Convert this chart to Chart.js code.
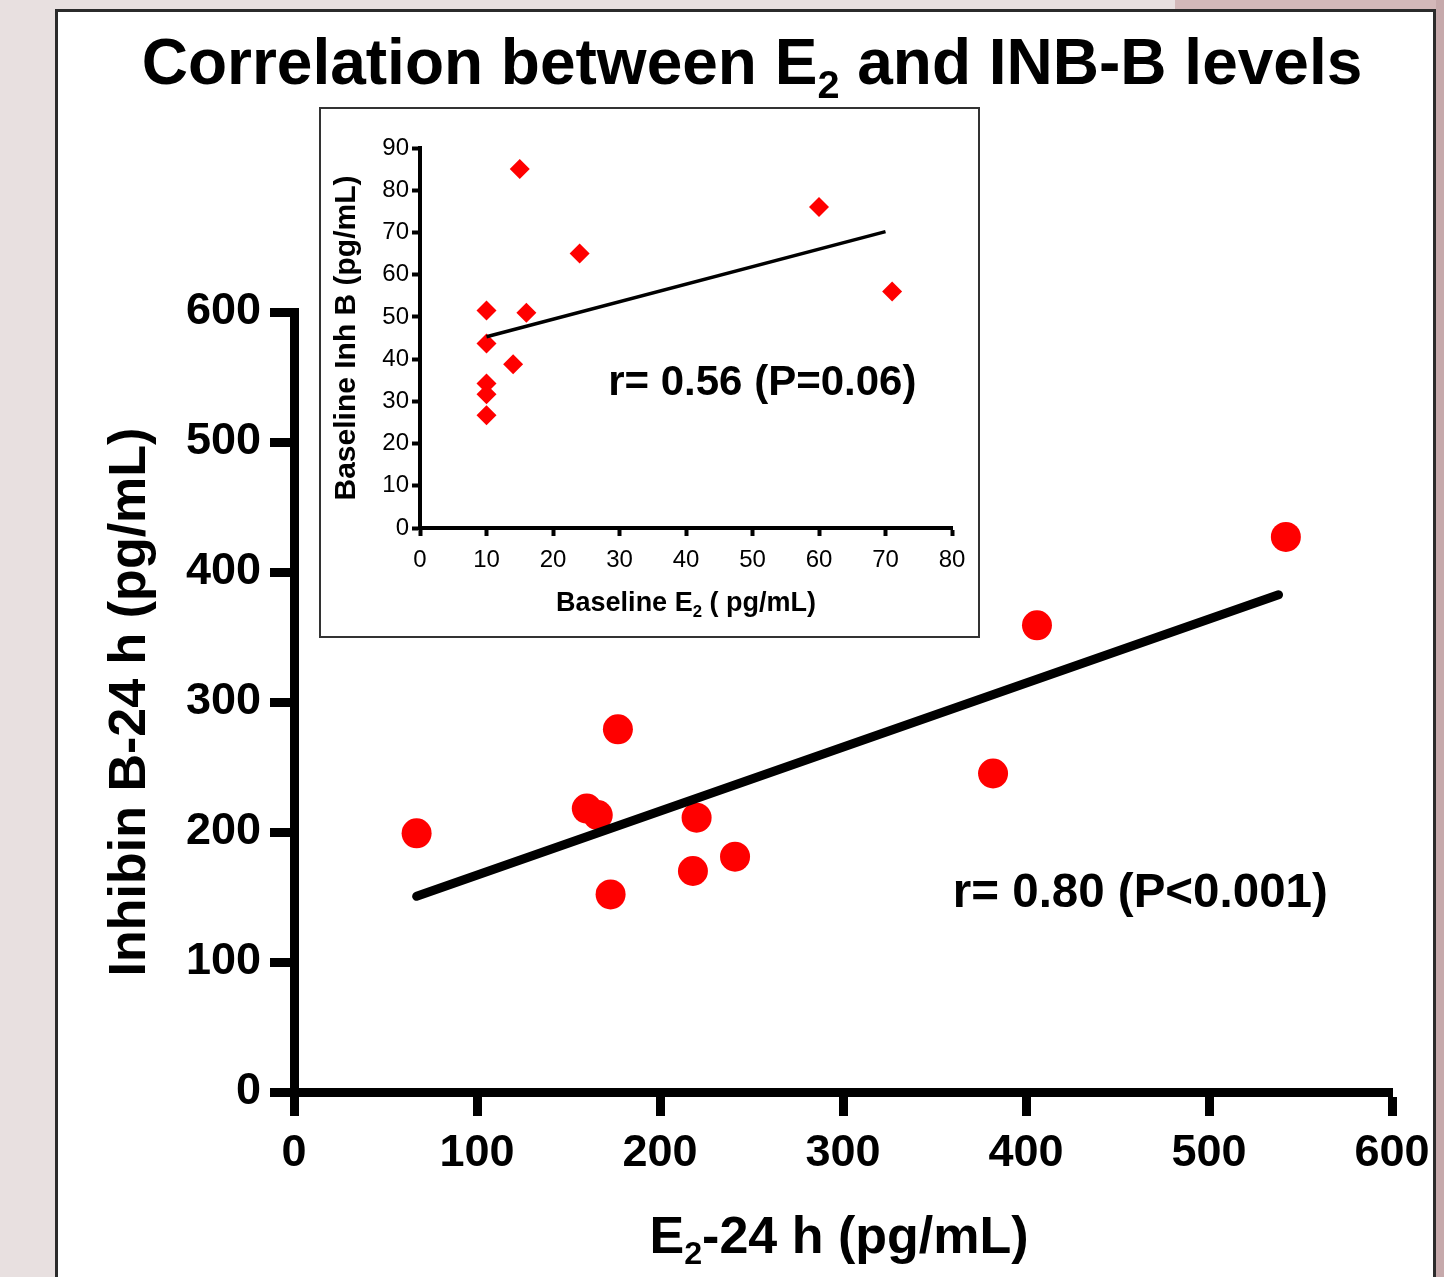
<!DOCTYPE html>
<html>
<head>
<meta charset="utf-8">
<script src="https://cdn.jsdelivr.net/npm/chart.js@4.4.1/dist/chart.umd.min.js"></script>
<style>
  html, body { margin: 0; padding: 0; }
  body { width: 1444px; height: 1277px; overflow: hidden; position: relative; background: #e8e0e0; }
  #edgeTop { position: absolute; left: 1175px; top: 0; width: 269px; height: 12px; background: #d3b8b9; }
  #edgeRight { position: absolute; left: 1436px; top: 0; width: 8px; height: 1277px; background: #c6a9ab; }
  #panel { position: absolute; left: 55px; top: 9px; width: 1381px; height: 1320px; box-sizing: border-box;
           background: #fff; border: 3px solid #2b2b2b; }
  #main { position: absolute; left: 0; top: 0; }
  #insetBox { position: absolute; left: 319px; top: 107px; width: 661px; height: 531px; box-sizing: border-box;
              background: #fff; border: 2px solid #333; }
  #inset { display: block; }
</style>
</head>
<body>
<div id="edgeTop"></div>
<div id="edgeRight"></div>
<div id="panel"></div>
<canvas id="main" width="1444" height="1277"></canvas>
<div id="insetBox"><canvas id="inset" width="657" height="527"></canvas></div>

<script>
// main plot: values at 24 h
const e2At24h = [67, 177, 160, 166, 220, 173, 218, 241, 382, 406, 542];
const inhBAt24h = [199, 279, 218, 213, 211, 152, 170, 181, 245, 359, 427];
const fit24hX = [67, 538];
const fit24hY = [150.5, 382.5];
const mainTicks = [0, 100, 200, 300, 400, 500, 600];

// inset: baseline values
const e2Baseline = [15, 24, 60, 71, 10, 16, 10, 14, 10, 10, 10];
const inhBBaseline = [85, 65, 76, 56, 51.5, 51, 43.7, 38.8, 34.2, 31.7, 26.7];
const fitBaseX = [10, 70];
const fitBaseY = [45.3, 70.2];
const insetX = [0, 10, 20, 30, 40, 50, 60, 70, 80];
const insetY = [0, 10, 20, 30, 40, 50, 60, 70, 80, 90];

const FONT = '"Liberation Sans", Arial, Helvetica, sans-serif';

const toPoints = (xs, ys) => xs.map((x, i) => ({ x: x, y: ys[i] }));

// draws text with a subscript part, e.g. E2
function drawRich(ctx, parts, x, y, size, align) {
  const subSize = size * 0.62;
  const setFont = sub => { ctx.font = 'bold ' + (sub ? subSize : size) + 'px ' + FONT; };
  let w = 0;
  parts.forEach(p => { setFont(p[1]); w += ctx.measureText(p[0]).width; });
  ctx.save();
  ctx.fillStyle = '#000';
  ctx.textAlign = 'left';
  ctx.textBaseline = 'alphabetic';
  let cx = align === 'left' ? x : x - w / 2;
  parts.forEach(p => {
    setFont(p[1]);
    ctx.fillText(p[0], cx, p[1] ? y + size * 0.22 : y);
    cx += ctx.measureText(p[0]).width;
  });
  ctx.restore();
}

const mainText = {
  id: 'mainText',
  afterDraw(chart) {
    const ctx = chart.ctx;
    const xs = chart.scales.x, ys = chart.scales.y;
    drawRich(ctx, [['Correlation between E'], ['2', true], [' and INB-B levels']], 752, 84, 64);
    drawRich(ctx, [['E'], ['2', true], ['-24 h (pg/mL)']], 839, 1253, 52);
    drawRich(ctx, [['r= 0.80 (P<0.001)']], xs.getPixelForValue(360), ys.getPixelForValue(142), 47.5, 'left');
  }
};

const insetText = {
  id: 'insetText',
  afterDraw(chart) {
    const ctx = chart.ctx;
    const xs = chart.scales.x, ys = chart.scales.y;
    drawRich(ctx, [['Baseline E'], ['2', true], [' ( pg/mL)']], (chart.chartArea.left + chart.chartArea.right) / 2, 502, 27);
    drawRich(ctx, [['r= 0.56 (P=0.06)']], xs.getPixelForValue(28.3), ys.getPixelForValue(31.4), 42, 'left');
  }
};

function axis(min, max, o) {
  return {
    type: 'linear', min: min, max: max,
    afterBuildTicks: s => { s.ticks = o.values.map(v => ({ value: v })); },
    ticks: { color: '#000', padding: o.pad, font: { family: FONT, size: o.font, weight: o.weight } },
    grid: { drawOnChartArea: false, drawTicks: true, tickLength: o.tickLen, tickWidth: o.lw, tickColor: '#000' },
    border: { color: '#000', width: o.lw },
    afterFit: o.fit
  };
}

new Chart(document.getElementById('main'), {
  type: 'scatter',
  data: {
    datasets: [
      { data: toPoints(fit24hX, fit24hY), showLine: true, borderColor: '#000', borderWidth: 9,
        borderCapStyle: 'round', pointRadius: 0 },
      { data: toPoints(e2At24h, inhBAt24h), backgroundColor: '#ff0000', borderWidth: 0, pointRadius: 15 }
    ]
  },
  options: {
    responsive: false, animation: false,
    layout: { padding: { left: 0, top: 312, right: 52, bottom: 0 } },
    plugins: { legend: { display: false }, tooltip: { enabled: false } },
    scales: {
      x: axis(0, 600, { values: mainTicks, pad: 11, font: 45, weight: 'bold', tickLen: 24, lw: 9,
        fit: s => { s.height = 185; } }),
      y: Object.assign(axis(0, 600, { values: mainTicks, pad: 9, font: 45, weight: 'bold', tickLen: 24, lw: 9,
        fit: s => { s.width = 294; } }), {
        title: { display: true, text: 'Inhibin B-24 h (pg/mL)', color: '#000',
                 font: { family: FONT, size: 52, weight: 'bold' }, padding: { top: 99, bottom: 0 } }
      })
    }
  },
  plugins: [mainText]
});

new Chart(document.getElementById('inset'), {
  type: 'scatter',
  data: {
    datasets: [
      { data: toPoints(fitBaseX, fitBaseY), showLine: true, borderColor: '#000', borderWidth: 3.5, pointRadius: 0 },
      { data: toPoints(e2Baseline, inhBBaseline), pointStyle: 'rectRot', backgroundColor: '#ff0000',
        borderWidth: 0, pointRadius: 10 }
    ]
  },
  options: {
    responsive: false, animation: false,
    layout: { padding: { left: 0, top: 39, right: 26, bottom: 0 } },
    plugins: { legend: { display: false }, tooltip: { enabled: false } },
    scales: {
      x: axis(0, 80, { values: insetX, pad: 10, font: 24, weight: 'normal', tickLen: 8, lw: 4,
        fit: s => { s.height = 108; } }),
      y: Object.assign(axis(0, 90, { values: insetY, pad: 3, font: 24, weight: 'normal', tickLen: 8, lw: 4,
        fit: s => { s.width = 99; } }), {
        title: { display: true, text: 'Baseline Inh B (pg/mL)', color: '#000',
                 font: { family: FONT, size: 30, weight: 'bold' }, padding: { top: 8, bottom: 0 } }
      })
    }
  },
  plugins: [insetText]
});
</script>
</body>
</html>
